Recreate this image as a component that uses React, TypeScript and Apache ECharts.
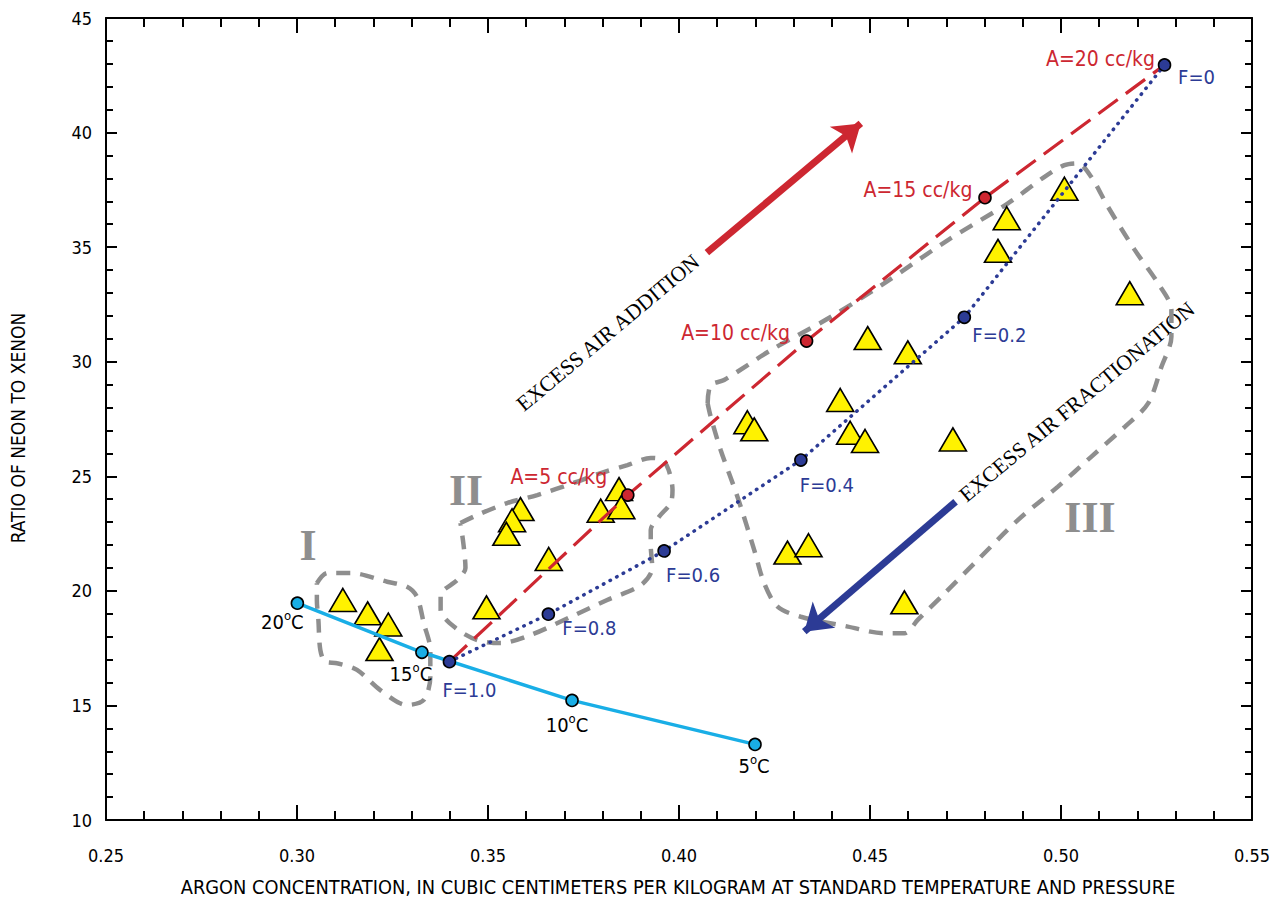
import React, { useEffect, useRef } from "react";
import * as echarts from "echarts";

// ---- data ----
const tempPoints: number[][] = [
  [0.3001, 19.46],
  [0.3327, 17.32],
  [0.372, 15.22],
  [0.4199, 13.3],
];
const tempLabels = ["20", "15", "10", "5"];

const fracPoints: number[][] = [
  [0.3399, 16.91],
  [0.3658, 18.98],
  [0.3961, 21.74],
  [0.4319, 25.71],
  [0.4747, 31.94],
  [0.5271, 42.95],
];
const fracLabels = ["F=1.0", "F=0.8", "F=0.6", "F=0.4", "F=0.2", "F=0"];

const airPoints: number[][] = [
  [0.3399, 16.91],
  [0.3866, 24.18],
  [0.4334, 30.9],
  [0.4801, 37.16],
  [0.5271, 42.95],
];
const airLabels = ["", "A=5 cc/kg", "A=10 cc/kg", "A=15 cc/kg", "A=20 cc/kg"];

const samples: number[][] = [
  [0.312, 19.6],
  [0.3185, 19.02],
  [0.3239, 18.53],
  [0.3216, 17.46],
  [0.3496, 19.28],
  [0.3585, 23.57],
  [0.3563, 23.08],
  [0.3548, 22.49],
  [0.3659, 21.39],
  [0.3795, 23.5],
  [0.3843, 24.44],
  [0.3849, 23.65],
  [0.4179, 27.36],
  [0.4197, 27.05],
  [0.4494, 31.03],
  [0.4599, 30.41],
  [0.4422, 28.33],
  [0.4448, 26.9],
  [0.4487, 26.54],
  [0.4717, 26.61],
  [0.4284, 21.67],
  [0.4339, 21.99],
  [0.459, 19.5],
  [0.4858, 36.26],
  [0.4835, 34.84],
  [0.5009, 37.55],
  [0.518, 32.99],
];

const regionI: number[][] = [
  [0.3052, 20.33], [0.3079, 20.78], [0.314, 20.78], [0.3236, 20.4], [0.3288, 20.18],
  [0.3314, 19.74], [0.3332, 18.58], [0.3349, 17.42], [0.3349, 16.25], [0.3332, 15.24],
  [0.3288, 15.02], [0.3218, 15.67], [0.3157, 16.55], [0.3105, 16.84], [0.3074, 16.91],
  [0.3061, 17.42], [0.3056, 18.73], [0.3052, 19.6], [0.3052, 20.33],
];
const regionII: number[][] = [
  [0.3428, 22.96], [0.3472, 23.31], [0.355, 23.83], [0.3629, 24.18], [0.3724, 24.71],
  [0.3795, 25.14], [0.3865, 25.49], [0.3926, 25.8], [0.3957, 25.71], [0.3973, 25.27],
  [0.3983, 24.4], [0.3978, 23.83], [0.3947, 23.22], [0.3926, 22.66], [0.3926, 22.0],
  [0.393, 21.0], [0.39, 20.25], [0.3812, 19.6], [0.3716, 18.86], [0.3611, 18.07],
  [0.3533, 17.72], [0.3472, 17.85], [0.3415, 18.38], [0.3376, 19.16], [0.3376, 19.82],
  [0.3419, 20.47], [0.3441, 21.0], [0.3436, 22.0], [0.3428, 22.96],
];
const regionIII: number[][] = [
  [0.4075, 28.18], [0.4083, 28.98], [0.4118, 29.2], [0.4241, 30.51], [0.4398, 31.96],
  [0.4537, 33.42], [0.4704, 35.31], [0.4861, 36.91], [0.4957, 38.07], [0.5009, 38.58],
  [0.5044, 38.66], [0.5079, 38.07], [0.5123, 36.76], [0.5193, 34.88], [0.5254, 33.42],
  [0.5289, 32.26], [0.5289, 31.09], [0.5263, 29.78], [0.5228, 28.18], [0.5167, 27.16],
  [0.5079, 25.85], [0.4992, 24.55], [0.4887, 23.09], [0.4782, 21.35], [0.4695, 19.89],
  [0.4625, 18.73], [0.459, 18.15], [0.4537, 18.15], [0.4442, 18.44], [0.4319, 18.87],
  [0.4258, 19.31], [0.4223, 20.33], [0.4197, 21.78], [0.4153, 24.11], [0.4109, 26.15],
  [0.4083, 27.6], [0.4075, 28.18],
];

const arrowAddition: number[][] = [[0.4073, 34.76], [0.4476, 40.4]];
const arrowFraction: number[][] = [[0.4724, 23.89], [0.4328, 18.22]];

const xTitle =
  "ARGON CONCENTRATION, IN CUBIC CENTIMETERS PER KILOGRAM AT STANDARD TEMPERATURE AND PRESSURE";
const yTitle = "RATIO OF NEON TO XENON";

// ---- styles ----
const SANS = "'Liberation Sans Narrow', 'DejaVu Sans Condensed', 'Liberation Sans', sans-serif";
const SERIF = "'Liberation Serif', 'DejaVu Serif', serif";
const RED = "#cd2731";
const BLUE = "#2c3b95";
const CYAN = "#19aee6";
const GREY = "#8e8e8e";

const tempOffsets = [[-15, 19], [-11, 22], [-5, 25], [-1, 22]];
const fracOffsets = [[20, 28], [41, 14], [29, 24], [26, 25], [35, 18], [32, 12]];
const airOffsets = [[0, 0], [-69, -18], [-71, -8], [-67, -8], [-64, -6]];

export default function App() {
  const ref = useRef<HTMLDivElement>(null);

  useEffect(() => {
    if (!ref.current) return;
    const chart = echarts.init(ref.current, undefined, { renderer: "svg" });

    const axisCommon = {
      type: "value" as const,
      axisLine: { show: true, onZero: false, lineStyle: { color: "#000", width: 2 } },
      splitLine: { show: false },
    };

    const outline = (data: number[][]) => ({
      type: "line",
      data,
      showSymbol: false,
      symbol: "none",
      smooth: 0.3,
      z: 1,
      silent: true,
      lineStyle: { color: GREY, width: 4.5, type: [14, 10] },
    });

    chart.setOption({
      animation: false,
      grid: { left: 106, right: 24, top: 18, bottom: 79, containLabel: false },
      xAxis: [
        {
          ...axisCommon,
          position: "bottom",
          min: 0.25,
          max: 0.55,
          interval: 0.05,
          axisTick: { show: true, inside: true, length: 15, lineStyle: { color: "#000", width: 2 } },
          minorTick: { show: true, splitNumber: 5, length: 9, lineStyle: { color: "#000", width: 2 } },
          axisLabel: {
            margin: 26,
            fontSize: 18,
            fontFamily: SANS,
            color: "#000",
            formatter: (v: number) => v.toFixed(2),
          },
        },
        {
          ...axisCommon,
          position: "top",
          min: 0.25,
          max: 0.55,
          interval: 0.05,
          axisTick: { show: true, inside: true, length: 15, lineStyle: { color: "#000", width: 2 } },
          minorTick: { show: true, splitNumber: 5, length: 9, lineStyle: { color: "#000", width: 2 } },
          axisLabel: { show: false },
        },
      ],
      yAxis: [
        {
          ...axisCommon,
          position: "left",
          min: 10,
          max: 45,
          interval: 5,
          axisTick: { show: true, inside: true, length: 11, lineStyle: { color: "#000", width: 2 } },
          minorTick: { show: true, splitNumber: 5, length: 7, lineStyle: { color: "#000", width: 2 } },
          axisLabel: { margin: 14, fontSize: 18, fontFamily: SANS, color: "#000" },
        },
        {
          ...axisCommon,
          position: "right",
          min: 10,
          max: 45,
          interval: 5,
          axisTick: { show: true, inside: true, length: 11, lineStyle: { color: "#000", width: 2 } },
          minorTick: { show: true, splitNumber: 5, length: 7, lineStyle: { color: "#000", width: 2 } },
          axisLabel: { show: false },
        },
      ],
      series: [
        outline(regionI),
        outline(regionII),
        outline(regionIII),
        {
          type: "lines",
          coordinateSystem: "cartesian2d",
          z: 3,
          symbol: ["none", "arrow"],
          symbolSize: [20, 26],
          silent: true,
          data: [
            { coords: arrowAddition, lineStyle: { color: RED, width: 7, opacity: 1 } },
            { coords: arrowFraction, lineStyle: { color: BLUE, width: 7, opacity: 1 } },
          ],
          lineStyle: { opacity: 1 },
        },
        {
          type: "scatter",
          z: 4,
          data: samples,
          symbol: "triangle",
          symbolSize: [27, 23],
          itemStyle: { color: "#fff200", borderColor: "#000", borderWidth: 1.6, opacity: 1 },
        },
        {
          type: "line",
          z: 5,
          data: tempPoints.map((p, i) => ({
            value: p,
            label: {
              show: true,
              position: "inside",
              offset: tempOffsets[i],
              formatter: `{n|${tempLabels[i]}}{s|o}{n|C}`,
            },
          })),
          symbol: "circle",
          symbolSize: 12,
          lineStyle: { color: CYAN, width: 3.5 },
          itemStyle: { color: CYAN, borderColor: "#000", borderWidth: 1.6 },
          label: {
            rich: {
              n: { fontSize: 20, fontFamily: SANS, color: "#000", lineHeight: 22 },
              s: { fontSize: 13, fontFamily: SANS, color: "#000", lineHeight: 13, padding: [0, 0, 13, 0] },
            },
          },
        },
        {
          type: "line",
          z: 6,
          data: airPoints.map((p, i) => {
            const end = i === 0 || i === airPoints.length - 1;
            return {
              value: p,
              symbol: "circle",
              symbolSize: end ? 0.01 : 12,
              itemStyle: end
                ? { color: "rgba(0,0,0,0)", borderWidth: 0 }
                : { color: RED, borderColor: "#000", borderWidth: 1.6 },
              label: {
                show: airLabels[i] !== "",
                position: "inside",
                offset: airOffsets[i],
                formatter: airLabels[i],
                fontSize: 21,
                fontFamily: SANS,
                color: RED,
              },
            };
          }),
          lineStyle: { color: RED, width: 3.2, type: [24, 10] },
        },
        {
          type: "line",
          z: 7,
          data: fracPoints.map((p, i) => ({
            value: p,
            label: {
              show: true,
              position: "inside",
              offset: fracOffsets[i],
              formatter: fracLabels[i],
              fontSize: 20,
              fontFamily: SANS,
              color: BLUE,
            },
          })),
          symbol: "circle",
          symbolSize: 12,
          lineStyle: { color: BLUE, width: 3.5, type: [0.5, 7], cap: "round" },
          itemStyle: { color: BLUE, borderColor: "#000", borderWidth: 1.6 },
        },
      ],
      graphic: [
        {
          type: "text",
          x: 18,
          y: 428,
          rotation: Math.PI / 2,
          style: { text: yTitle, fontSize: 19, fontFamily: SANS, fill: "#000", align: "center", verticalAlign: "middle" },
        },
        {
          type: "text",
          x: 678,
          y: 887,
          style: { text: xTitle, fontSize: 19.8, fontFamily: SANS, fill: "#000", align: "center", verticalAlign: "middle" },
        },
        {
          type: "text",
          x: 608,
          y: 333,
          rotation: 0.697,
          style: { text: "EXCESS AIR ADDITION", fontSize: 21.5, fontFamily: SERIF, fill: "#000", align: "center", verticalAlign: "middle" },
        },
        {
          type: "text",
          x: 1077,
          y: 402,
          rotation: 0.695,
          style: { text: "EXCESS AIR FRACTIONATION", fontSize: 21.5, fontFamily: SERIF, fill: "#000", align: "center", verticalAlign: "middle" },
        },
        {
          type: "text",
          x: 308,
          y: 545,
          style: { text: "I", fontSize: 44, fontWeight: "bold", fontFamily: SERIF, fill: GREY, align: "center", verticalAlign: "middle" },
        },
        {
          type: "text",
          x: 466,
          y: 490,
          style: { text: "II", fontSize: 44, fontWeight: "bold", fontFamily: SERIF, fill: GREY, align: "center", verticalAlign: "middle" },
        },
        {
          type: "text",
          x: 1090,
          y: 517,
          style: { text: "III", fontSize: 44, fontWeight: "bold", fontFamily: SERIF, fill: GREY, align: "center", verticalAlign: "middle" },
        },
      ],
    });

    return () => chart.dispose();
  }, []);

  return (
    <div
      ref={ref}
      style={{ position: "fixed", left: 0, top: 0, width: 1276, height: 899, background: "#fff" }}
    />
  );
}
